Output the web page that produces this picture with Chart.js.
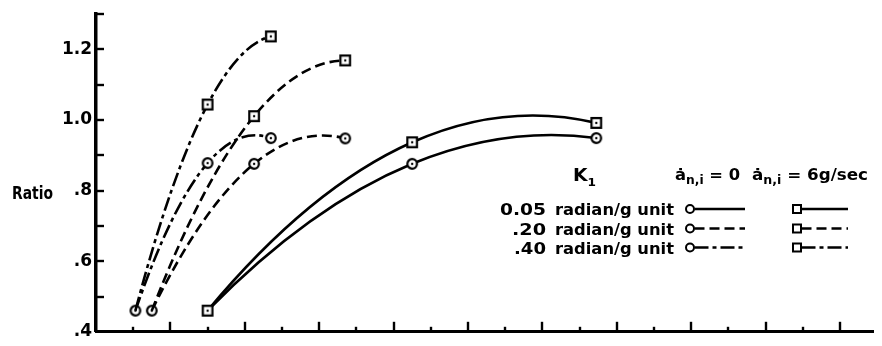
<!DOCTYPE html>
<html>
<head>
<meta charset="utf-8">
<script src="https://cdn.jsdelivr.net/npm/chart.js@4/dist/chart.umd.min.js"></script>
<style>
  html, body { margin: 0; padding: 0; background: #fff; }
  #wrap { width: 882px; height: 346px; position: relative; }
</style>
</head>
<body>
<div id="wrap"><canvas id="chart" width="882" height="346"></canvas></div>
<script>
// Ratio curves for three gain settings K1, without (circles) and with
// (squares) a 6 g/sec normal-acceleration rate input.
const k040X = [1.06, 3.0, 4.7];
const k040NoRate = [0.46, 0.878, 0.949];
const k040Rate = [0.46, 1.044, 1.237];

const k020X = [1.5, 4.25, 6.7];
const k020NoRate = [0.46, 0.876, 0.948];
const k020Rate = [0.46, 1.011, 1.169];

const k005X = [3.0, 8.5, 13.45];
const k005NoRate = [0.46, 0.876, 0.949];
const k005Rate = [0.46, 0.937, 0.992];

const gainLabels = ['0.05', '.20', '.40'];
const gainUnit = 'radian/g unit';

const yTickValues = [0.4, 0.5, 0.6, 0.7, 0.8, 0.9, 1.0, 1.1, 1.2, 1.3];
const yLabelValues = [0.4, 0.6, 0.8, 1.0, 1.2];
const yTickLabels = ['.4', '.6', '.8', '1.0', '1.2'];
const xTickValues = [1, 2, 3, 4, 5, 6, 7, 8, 9, 10, 11, 12, 13, 14, 15, 16, 17, 18, 19, 20];

const INK = '#000';
const FONT = 'DejaVu Sans';
const DASH_SOLID = [];
const DASH_DASHED = [10, 5];
const DASH_CHAIN = [14, 4, 4, 4];

// Open plot symbols with a centre dot, drawn once onto small canvases.
function makeMarker(shape) {
  const c = document.createElement('canvas');
  c.width = 14; c.height = 14;
  const g = c.getContext('2d');
  g.strokeStyle = INK; g.lineWidth = 2.2;
  g.beginPath();
  if (shape === 'circle') g.arc(7, 7, 4.8, 0, Math.PI * 2);
  else g.rect(2.2, 2.2, 9.6, 9.6);
  g.fillStyle = '#fff'; g.fill();
  g.stroke();
  g.fillStyle = INK;
  g.beginPath(); g.arc(7, 7, 1.2, 0, Math.PI * 2); g.fill();
  return c;
}
const circleMarker = makeMarker('circle');
const squareMarker = makeMarker('square');

function series(xs, ys, marker, dash, radii) {
  return {
    data: xs.map((x, i) => ({ x, y: ys[i] })),
    borderColor: INK,
    borderWidth: 2.6,
    borderDash: dash,
    borderCapStyle: 'butt',
    fill: false,
    tension: 0.4,
    pointStyle: marker,
    pointRadius: radii,
    pointHoverRadius: radii,
    clip: false
  };
}

const datasets = [
  series(k005X, k005Rate, squareMarker, DASH_SOLID, [6, 6, 6]),
  series(k005X, k005NoRate, circleMarker, DASH_SOLID, [0, 6, 6]),
  series(k020X, k020Rate, squareMarker, DASH_DASHED, [0, 6, 6]),
  series(k020X, k020NoRate, circleMarker, DASH_DASHED, [6, 6, 6]),
  series(k040X, k040Rate, squareMarker, DASH_CHAIN, [0, 6, 6]),
  series(k040X, k040NoRate, circleMarker, DASH_CHAIN, [6, 6, 6])
];

// Each curve is a faired parabola through its three points: the Bezier
// handles are set from the slope of that parabola at every point.
const parabolicFairing = {
  id: 'parabolicFairing',
  beforeDatasetDraw(chart, args) {
    const meta = args.meta;
    const pts = meta.data;
    if (!meta.dataset || pts.length !== 3) return;
    const [a, b, c] = pts;
    const s1 = (b.y - a.y) / (b.x - a.x);
    const s2 = (c.y - b.y) / (c.x - b.x);
    const k = (s2 - s1) / (c.x - a.x);
    const slope = x => s1 + k * (2 * x - a.x - b.x);
    pts.forEach(p => { p.cp1x = p.x; p.cp1y = p.y; p.cp2x = p.x; p.cp2y = p.y; });
    for (let i = 0; i < pts.length - 1; i++) {
      const p = pts[i], q = pts[i + 1];
      const h = (q.x - p.x) / 3;
      p.cp2x = p.x + h; p.cp2y = p.y + slope(p.x) * h;
      q.cp1x = q.x - h; q.cp1y = q.y - slope(q.x) * h;
    }
    meta.dataset._pointsUpdated = true;
  }
};

// Tick marks on the inner side of both axes.
const innerTicks = {
  id: 'innerTicks',
  afterDraw(chart) {
    const ctx = chart.ctx;
    const { x, y } = chart.scales;
    const area = chart.chartArea;
    ctx.save();
    ctx.strokeStyle = INK;
    ctx.lineWidth = 2.4;
    ctx.lineCap = 'butt';
    yTickValues.forEach(v => {
      if (v === y.min) return;
      const py = Math.round(y.getPixelForValue(v));
      ctx.beginPath(); ctx.moveTo(area.left, py); ctx.lineTo(area.left + 8, py); ctx.stroke();
    });
    xTickValues.forEach(v => {
      const px = Math.round(x.getPixelForValue(v));
      const len = v % 2 === 0 ? 10 : 5;
      ctx.beginPath(); ctx.moveTo(px, area.bottom); ctx.lineTo(px, area.bottom - len); ctx.stroke();
    });
    ctx.restore();
  }
};

function drawFitted(ctx, text, x, y, width, size, align) {
  ctx.save();
  ctx.font = `bold ${size}px "${FONT}"`;
  const w = ctx.measureText(text).width;
  const x0 = align === 'right' ? x - width : x;
  ctx.translate(x0, y);
  ctx.scale(width / w, 1);
  ctx.textAlign = 'left';
  ctx.textBaseline = 'alphabetic';
  ctx.fillStyle = INK;
  ctx.fillText(text, 0, 0);
  ctx.restore();
}

// Text with subscript pieces, squeezed to a given width.
function drawComposite(ctx, parts, x, y, width) {
  ctx.save();
  let total = 0;
  const widths = parts.map(p => {
    ctx.font = `bold ${p.size}px "${FONT}"`;
    const w = ctx.measureText(p.t).width;
    total += w;
    return w;
  });
  ctx.translate(x, y);
  ctx.scale(width / total, 1);
  ctx.fillStyle = INK;
  ctx.textAlign = 'left';
  ctx.textBaseline = 'alphabetic';
  let cx = 0;
  parts.forEach((p, i) => {
    ctx.font = `bold ${p.size}px "${FONT}"`;
    ctx.fillText(p.t, cx, p.dy || 0);
    cx += widths[i];
  });
  ctx.restore();
}

function legendSample(ctx, shape, cx, cy, x1, dash) {
  ctx.save();
  ctx.strokeStyle = INK;
  ctx.lineWidth = 2;
  ctx.beginPath();
  if (shape === 'circle') ctx.arc(cx, cy, 4, 0, Math.PI * 2);
  else ctx.rect(cx - 4, cy - 4, 8, 8);
  ctx.stroke();
  ctx.lineWidth = 2.3;
  ctx.setLineDash(dash);
  ctx.beginPath();
  ctx.moveTo(cx + 4.5, cy); ctx.lineTo(x1, cy);
  ctx.stroke();
  ctx.restore();
}

const annotations = {
  id: 'annotations',
  afterDraw(chart) {
    const ctx = chart.ctx;
    // axis title
    drawFitted(ctx, 'Ratio', 12, 199, 41, 17, 'left');
    // key heading
    drawComposite(ctx, [{ t: 'K', size: 17 }, { t: '1', size: 11, dy: 5 }], 573, 181, 23);
    drawComposite(ctx, [{ t: '\u0227', size: 16 }, { t: 'n,i', size: 12, dy: 4 }, { t: ' = 0', size: 16 }], 675, 180, 65);
    drawComposite(ctx, [{ t: '\u0227', size: 16 }, { t: 'n,i', size: 12, dy: 4 }, { t: ' = 6g/sec', size: 16 }], 752, 180, 116);
    // key rows
    const dashes = [DASH_SOLID, DASH_DASHED, DASH_CHAIN];
    const rowY = [209, 228.5, 247.5];
    const numW = [46, 34, 32];
    gainLabels.forEach((lab, i) => {
      const base = rowY[i] + 6;
      drawFitted(ctx, lab, 546, base, numW[i], 16, 'right');
      drawFitted(ctx, gainUnit, 555, base, 119, 16, 'left');
      legendSample(ctx, 'circle', 690, rowY[i], 745, dashes[i]);
      legendSample(ctx, 'square', 797, rowY[i], 848, dashes[i]);
    });
  }
};

new Chart(document.getElementById('chart'), {
  type: 'line',
  data: { datasets },
  plugins: [parabolicFairing, innerTicks, annotations],
  options: {
    responsive: false,
    animation: false,
    devicePixelRatio: 1,
    events: [],
    layout: { padding: { top: 10, right: 0, bottom: 0, left: 0 } },
    plugins: { legend: { display: false }, tooltip: { enabled: false } },
    scales: {
      x: {
        type: 'linear',
        min: 0,
        max: 20.9,
        afterBuildTicks: s => { s.ticks = xTickValues.map(v => ({ value: v })); },
        afterFit: s => { s.height = 10; },
        ticks: { display: false },
        grid: { drawOnChartArea: false, drawTicks: false },
        border: { display: true, color: INK, width: 3 }
      },
      y: {
        type: 'linear',
        min: 0.4,
        max: 1.3,
        afterBuildTicks: s => { s.ticks = yTickValues.map(v => ({ value: v })); },
        afterFit: s => { s.width = 96; },
        ticks: {
          autoSkip: false,
          padding: 4,
          color: INK,
          font: { family: FONT, weight: 'bold', size: 17 },
          callback: v => {
            const i = yLabelValues.findIndex(l => Math.abs(l - v) < 1e-6);
            return i >= 0 ? yTickLabels[i] : '';
          }
        },
        grid: { drawOnChartArea: false, drawTicks: false },
        border: { display: true, color: INK, width: 3.5 }
      }
    }
  }
});
</script>
</body>
</html>
